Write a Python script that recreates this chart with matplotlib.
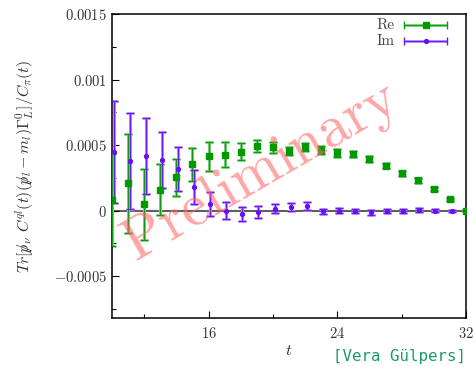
import matplotlib
matplotlib.use("Agg")
import matplotlib.pyplot as plt
import numpy as np
from matplotlib.ticker import FixedLocator, FixedFormatter, MultipleLocator

plt.rcParams['font.family'] = ['cmr10', 'DejaVu Serif']
plt.rcParams['mathtext.fontset'] = 'cm'
plt.rcParams['axes.unicode_minus'] = False

# --- data ---
t_re = [10, 11, 12, 13, 14, 15, 16, 17, 18, 19, 20, 21, 22, 23, 24, 25, 26, 27, 28, 29, 30, 31, 32]
re_val = [0.78e-4, 2.08e-4, 0.48e-4, 1.60e-4, 2.53e-4, 3.52e-4, 4.13e-4, 4.26e-4, 4.50e-4, 4.95e-4,
          4.82e-4, 4.57e-4, 4.85e-4, 4.64e-4, 4.36e-4, 4.31e-4, 3.93e-4, 3.42e-4, 2.84e-4, 2.31e-4,
          1.62e-4, 0.86e-4, 0.0]
re_err = [3.5e-4, 3.8e-4, 2.7e-4, 1.95e-4, 1.42e-4, 1.25e-4, 1.13e-4, 0.95e-4, 0.65e-4, 0.45e-4,
          0.40e-4, 0.30e-4, 0.30e-4, 0.30e-4, 0.30e-4, 0.25e-4, 0.20e-4, 0.18e-4, 0.18e-4, 0.18e-4,
          0.15e-4, 0.12e-4, 0.05e-4]

t_im = [10.1, 11.1, 12.1, 13.1, 14.1, 15.1, 16.1, 17.1, 18.1, 19.1, 20.1, 21.1, 22.1, 23.1, 24.1,
        25.1, 26.1, 27.1, 28.1, 29.1, 30.1, 31.1]
im_val = [4.44e-4, 3.80e-4, 4.16e-4, 3.88e-4, 3.17e-4, 1.77e-4, 0.51e-4, 0.0, -0.23e-4, -0.13e-4,
          0.13e-4, 0.25e-4, 0.33e-4, -0.05e-4, 0.0, 0.0, -0.13e-4, 0.0, 0.0, 0.02e-4, 0.0, 0.0]
im_err = [3.9e-4, 3.67e-4, 2.93e-4, 2.15e-4, 1.65e-4, 1.30e-4, 0.90e-4, 0.65e-4, 0.53e-4, 0.45e-4,
          0.35e-4, 0.30e-4, 0.30e-4, 0.20e-4, 0.20e-4, 0.15e-4, 0.20e-4, 0.15e-4, 0.15e-4, 0.15e-4,
          0.10e-4, 0.08e-4]

series_names = ['Re', 'Im']
xticks_major = [16, 24, 32]
yticks_major = [-0.0005, 0, 0.0005, 0.001, 0.0015]
ytick_labels = [r'$-0.0005$', r'$0$', r'$0.0005$', r'$0.001$', r'$0.0015$']

W, H = 475, 366
fig = plt.figure(figsize=(W / 100, H / 100), dpi=100)
ax = fig.add_axes([112 / W, 1 - 318 / H, (466 - 112) / W, (318 - 14) / H])

ax.axhline(0, color='#606060', lw=1.5, zorder=1)

styles = [
    dict(light='#7fd07f', dark='#119911', mcolor='#009a00', marker='s', ms=4.2),
    dict(light='#b58cff', dark='#6a18f5', mcolor='#6a10f0', marker='o', ms=2.8),
]

def draw(t, v, e, st):
    ax.errorbar(t, v, yerr=e, fmt='none', ecolor=st['light'], elinewidth=2.2, capsize=3.0,
                capthick=2.0, zorder=2)
    ax.errorbar(t, v, yerr=e, fmt=st['marker'], color=st['mcolor'], ms=st['ms'],
                ecolor=st['dark'], elinewidth=0.8, capsize=2.8, capthick=0.8, zorder=3)

draw(t_re, re_val, re_err, styles[0])
draw(t_im, im_val, im_err, styles[1])

# gnuplot-style legend (horizontal error bar sample)
for i, (name, st) in enumerate(zip(series_names, styles)):
    yk = 0.964 - i * 0.053
    ax.plot([0.825, 0.946], [yk, yk], transform=ax.transAxes, color=st['light'], lw=2.0,
            solid_capstyle='butt', zorder=6, clip_on=False)
    ax.plot([0.825, 0.946], [yk, yk], transform=ax.transAxes, color=st['dark'], lw=0.8,
            zorder=6, clip_on=False)
    ax.plot([0.825, 0.946], [yk, yk], transform=ax.transAxes, ls='none', marker='|', ms=6,
            mew=1.0, color=st['dark'], zorder=6, clip_on=False)
    ax.plot([0.887], [yk], transform=ax.transAxes, ls='none', marker=st['marker'],
            ms=st['ms'], color=st['mcolor'], zorder=7, clip_on=False)
    ax.text(0.799, yk, name, transform=ax.transAxes, ha='right', va='center', fontsize=11,
            color='#444444', zorder=7)

ax.set_xlim(10, 32)
ax.set_ylim(-0.00082, 0.0015)
ax.xaxis.set_major_locator(FixedLocator(xticks_major))
ax.xaxis.set_major_formatter(FixedFormatter([r'$%d$' % v for v in xticks_major]))
ax.xaxis.set_minor_locator(FixedLocator([12, 20, 28]))
ax.yaxis.set_major_locator(FixedLocator(yticks_major))
ax.yaxis.set_major_formatter(FixedFormatter(ytick_labels))
ax.yaxis.set_minor_locator(MultipleLocator(0.00025))
ax.tick_params(which='both', direction='in', top=False, right=False, labelsize=10.5,
               labelcolor='#333333')
ax.tick_params(which='major', length=5, width=0.8)
ax.tick_params(which='minor', length=3, width=0.8)
ax.tick_params(axis='x', pad=6)
for s in ax.spines.values():
    s.set_linewidth(1.1)
    s.set_color('black')

ax.set_xlabel(r'$t$', fontsize=11.5, color='#333333', labelpad=2)
ax.set_ylabel(r'$Tr[p\!\!\!/_\nu\ C^{ql}(t)(p\!\!\!/_l - m_l)\Gamma_L^0]/C_\pi(t)$',
              fontsize=11.5, color='#333333', labelpad=13)

ax.text((262 - 112) / 354, (318 - 172) / 304, 'Preliminary', transform=ax.transAxes,
        fontsize=43, color='#ff6666', alpha=0.58, rotation=30, ha='center', va='center',
        zorder=5)

fig.text(466 / W, 1 - 357 / H, '[Vera Gülpers]', family='DejaVu Sans Mono',
         fontsize=11.3, color='#1a9a6a', ha='right', va='center')

fig.savefig('out.png', dpi=100)
